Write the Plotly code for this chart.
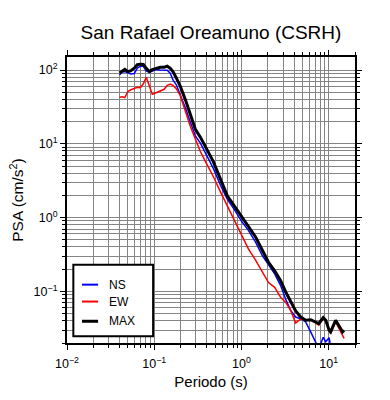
import plotly.graph_objects as go

# ---- data ----
periods = [0.04, 0.043, 0.046, 0.05, 0.054, 0.059, 0.064, 0.069, 0.075, 0.081, 0.088, 0.095,
           0.105, 0.117, 0.13, 0.141, 0.153, 0.165, 0.179, 0.199,
           0.227, 0.259, 0.296, 0.338, 0.396, 0.477, 0.574, 0.69, 0.831, 1.0,
           1.2, 1.45, 1.74, 2.04, 2.4, 2.81, 3.2, 3.66, 4.18,
           4.77, 5.44, 6.21, 6.9, 7.68,
           8.65, 9.24, 10.1, 10.5, 12.0, 13.1, 14.4, 15.0]

psa_ns = [85.8, 94, 95, 91, 88.4, 89.8, 106, 112, 112, 97, 92.6, 97,
          101.6, 100, 100, 99, 89.8, 72.3, 63, 46.3,
          30.7, 19.8, 12.8, 10.2, 7.21, 4.61, 2.74, 1.76, 1.27, 0.895,
          0.671, 0.466, 0.304, 0.231, 0.173, 0.120, 0.079, 0.0553, 0.045,
          0.0427, 0.0386, 0.0283, 0.0221, 0.0168,
          0.0239, 0.0208, 0.0236, 0.0179, 0.015, 0.014, 0.013, 0.013]

psa_ew = [42.8, 43.5, 42.2, 51.5, 54.0, 56.9, 58.3, 57.4, 65.0, 79.9, 61.1, 47.0,
          49.2, 51.5, 54.8, 62.0, 64.6, 61.4, 55.7, 44.8,
          27.1, 17.3, 11.6, 7.87, 5.42, 3.58, 2.23, 1.42, 0.895, 0.581,
          0.378, 0.265, 0.186, 0.132, 0.1135, 0.083, 0.0714, 0.0553, 0.0374,
          0.0423, 0.0407, 0.0407, 0.0386, 0.0348,
          0.0427, 0.0407, 0.0292, 0.0269, 0.0386, 0.0314, 0.0243, 0.0231]

psa_max = [91, 97, 102, 95, 98, 106, 118, 120, 119, 105, 95.5, 101,
           106, 109, 109, 113, 105, 94, 78, 60,
           39.7, 25.0, 15.7, 12.3, 8.8, 5.7, 3.32, 1.96, 1.43, 1.04,
           0.75, 0.547, 0.358, 0.248, 0.190, 0.140, 0.099, 0.0715, 0.0543,
           0.045, 0.0407, 0.0414, 0.0392, 0.0366,
           0.0441, 0.0407, 0.0299, 0.0283, 0.0407, 0.0348, 0.0283, 0.0297]

series_names = ["NS", "EW", "MAX"]
series_colors = ["#0000ff", "#ff0000", "#000000"]
series_widths = [1.5, 1.5, 3]

x_tickvals = [0.01, 0.1, 1, 10]
x_ticktext = ["10<sup>\u22122</sup>", "10<sup>\u22121</sup>", "10<sup>0</sup>", "10<sup>1</sup>"]
y_tickvals = [0.1, 1, 10, 100]
y_ticktext = ["10<sup>\u22121</sup>", "10<sup>0</sup>", "10<sup>1</sup>", "10<sup>2</sup>"]

title_text = "San Rafael Oreamuno (CSRH)"
x_title = "Periodo (s)"
y_title = "PSA (cm/s<sup>2</sup>)"

FONT = "Liberation Sans, Arial, Helvetica, sans-serif"

fig = go.Figure()
for name, ys, col, w in zip(series_names, [psa_ns, psa_ew, psa_max], series_colors, series_widths):
    fig.add_trace(go.Scatter(x=periods, y=ys, mode="lines", name=name,
                             line=dict(color=col, width=w), showlegend=False))

grid_col = "#858585"
axis_common = dict(
    type="log",
    showline=True, linecolor="black", linewidth=2, mirror="allticks",
    ticks="outside", ticklen=5, tickwidth=1, tickcolor="black",
    showgrid=True, gridcolor=grid_col, gridwidth=1,
    zeroline=False,
    tickfont=dict(family=FONT, size=12.5, color="black"),
    minor=dict(dtick="D1", ticks="outside", ticklen=3, tickwidth=1, tickcolor="black",
               showgrid=True, gridcolor=grid_col, gridwidth=1),
)

fig.update_layout(
    width=390, height=400,
    margin=dict(l=67, r=35, t=57, b=54),
    paper_bgcolor="white", plot_bgcolor="white",
    font=dict(family=FONT, color="black"),
    title=dict(text=title_text, x=0.541, xanchor="center", y=0.918, yanchor="middle",
               font=dict(family=FONT, size=19, color="black")),
    xaxis=dict(range=[-2, 1.30103], tickvals=x_tickvals, ticktext=x_ticktext,
               ticklabelstandoff=3,
               title=dict(text=x_title, font=dict(family=FONT, size=15), standoff=6),
               **axis_common),
    yaxis=dict(range=[-1.69897, 2.17609], tickvals=y_tickvals, ticktext=y_ticktext,
               title=dict(text=y_title, font=dict(family=FONT, size=15.5), standoff=6),
               **axis_common),
)

# legend box (drawn as a framed panel like the reference)
lx0, lx1, ly0, ly1 = 0.022, 0.299, 0.024, 0.274
fig.add_shape(type="rect", xref="paper", yref="paper", x0=lx0, x1=lx1, y0=ly0, y1=ly1,
              line=dict(color="black", width=2), fillcolor="white", layer="above")
leg_y = [0.204, 0.145, 0.076]
for name, col, w, yy in zip(series_names, series_colors, series_widths, leg_y):
    fig.add_shape(type="line", xref="paper", yref="paper", x0=0.052, x1=0.108, y0=yy, y1=yy,
                  line=dict(color=col, width=2 if w < 2 else 3), layer="above")
    fig.add_annotation(text=name, xref="paper", yref="paper", x=0.139, y=yy,
                       xanchor="left", yanchor="middle", showarrow=False,
                       font=dict(family=FONT, size=12, color="black"))

fig.write_html("out.html")
